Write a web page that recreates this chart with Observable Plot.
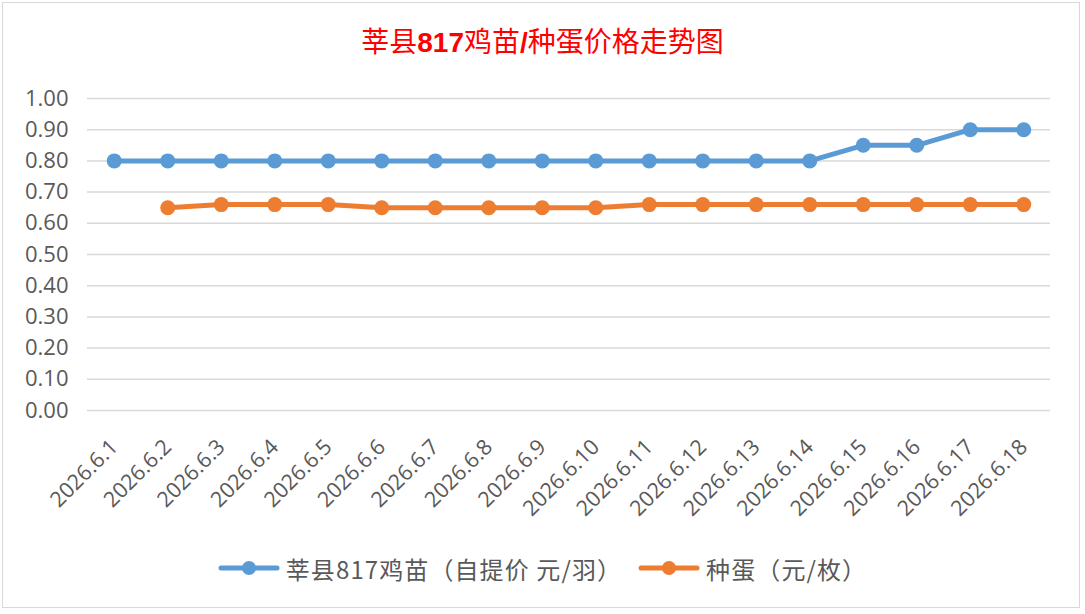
<!DOCTYPE html>
<html><head><meta charset="utf-8">
<script src="https://cdn.jsdelivr.net/npm/d3@7"></script>
<script src="https://cdn.jsdelivr.net/npm/@observablehq/plot@0.6"></script>
<style>
body{margin:0;background:#fff;}
#chart{position:relative;width:1085px;height:614px;overflow:hidden;background:#fff;}
#frame{position:absolute;left:2px;top:2px;width:1078px;height:606px;border:1.5px solid #d9d9d9;box-sizing:border-box;}
#title{position:absolute;left:0;top:22px;width:1085px;height:36px;line-height:36px;text-align:center;color:#ff0000;font-family:"Noto Sans CJK SC";font-size:28px;}
#title b{font-family:"Liberation Sans","Noto Sans CJK SC";font-weight:bold;}
#plot{position:absolute;left:0;top:70px;}
#legend{position:absolute;left:0;top:550px;width:1085px;height:36px;display:flex;justify-content:center;align-items:center;font-family:"Noto Sans CJK SC";font-size:24px;color:#595959;letter-spacing:1.1px;}
.item{display:flex;align-items:center;margin:0 8px;}
.item svg{margin-right:6px;}
</style></head>
<body>
<div id="chart">
  <div id="frame"></div>
  <div id="title"></div>
  <div id="plot"></div>
  <div id="legend"></div>
</div>
<script>
const titleParts = [["莘县", false], ["817", true], ["鸡苗", false], ["/", true], ["种蛋价格走势图", false]];
const dates = ["2026.6.1","2026.6.2","2026.6.3","2026.6.4","2026.6.5","2026.6.6","2026.6.7","2026.6.8","2026.6.9","2026.6.10","2026.6.11","2026.6.12","2026.6.13","2026.6.14","2026.6.15","2026.6.16","2026.6.17","2026.6.18"];
const chickPrice = [0.80,0.80,0.80,0.80,0.80,0.80,0.80,0.80,0.80,0.80,0.80,0.80,0.80,0.80,0.85,0.85,0.90,0.90];
const eggPrice = [null,0.65,0.66,0.66,0.66,0.65,0.65,0.65,0.65,0.65,0.66,0.66,0.66,0.66,0.66,0.66,0.66,0.66];
const seriesNames = ["莘县817鸡苗（自提价 元/羽）", "种蛋（元/枚）"];
const seriesColors = ["#5B9BD5", "#ED7D31"];
const yTicks = [0.0,0.1,0.2,0.3,0.4,0.5,0.6,0.7,0.8,0.9,1.0];

document.getElementById("title").innerHTML = titleParts.map(([t,b]) => b ? `<b>${t}</b>` : t).join("");

const rows = [];
[chickPrice, eggPrice].forEach((vals, si) => {
  vals.forEach((v, i) => { if (v != null) rows.push({series: seriesNames[si], date: dates[i], value: v}); });
});

const plot = Plot.plot({
  width: 1085,
  height: 470,
  marginLeft: 87,
  marginRight: 35,
  marginTop: 28,
  marginBottom: 130,
  style: {fontFamily: "'Open Sans'", fontSize: "21px", color: "#595959", background: "transparent"},
  x: {type: "point", domain: dates, padding: 0.5, round: false, label: null},
  y: {domain: [0, 1], label: null},
  color: {domain: seriesNames, range: seriesColors},
  marks: [
    Plot.ruleY(yTicks, {stroke: "#d9d9d9", strokeWidth: 1.5}),
    Plot.axisY({ticks: yTicks, tickFormat: d => d.toFixed(2), tickSize: 0, tickPadding: 19, fontSize: 22, label: null}),
    Plot.axisX({tickRotate: -45, tickSize: 0, tickPadding: 33, fontSize: 21.5, label: null}),
    Plot.line(rows, {x: "date", y: "value", z: "series", stroke: "series", strokeWidth: 5, strokeLinejoin: "round", strokeLinecap: "round"}),
    Plot.dot(rows, {x: "date", y: "value", fill: "series", r: 7.5, stroke: null})
  ]
});
document.getElementById("plot").appendChild(plot);

const legend = document.getElementById("legend");
seriesNames.forEach((name, i) => {
  const item = document.createElement("div");
  item.className = "item";
  item.innerHTML = `<svg width="62" height="16"><line x1="3" y1="8" x2="59" y2="8" stroke="${seriesColors[i]}" stroke-width="5" stroke-linecap="round"/><circle cx="31" cy="8" r="7" fill="${seriesColors[i]}"/></svg><span>${name}</span>`;
  legend.appendChild(item);
});
</script>
</body></html>
